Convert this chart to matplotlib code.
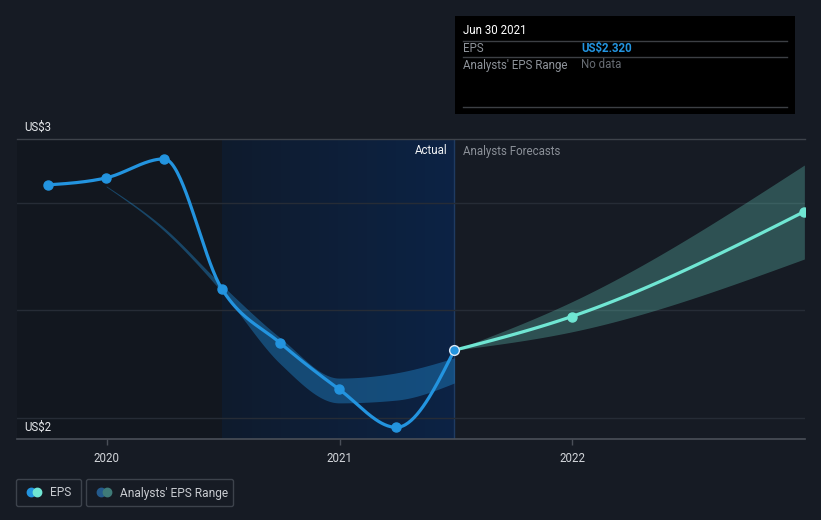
import numpy as np
import pandas as pd
import matplotlib
matplotlib.use("Agg")
import matplotlib.pyplot as plt
from matplotlib.patches import Rectangle, FancyBboxPatch, Circle
from matplotlib.colors import LinearSegmentedColormap

W, H = 821, 520

# reported EPS (US$)
eps_dates = ["2019-09-30", "2019-12-31", "2020-03-31", "2020-06-30",
             "2020-09-30", "2020-12-31", "2021-03-31", "2021-06-30"]
eps_values = [2.860, 2.883, 2.945, 2.520, 2.343, 2.193, 2.068, 2.320]

# analyst forecast EPS with high/low range
fc_dates = ["2021-06-30", "2021-12-31", "2022-12-31"]
fc_values = [2.320, 2.430, 2.773]
fc_high = [2.320, 2.478, 2.925]
fc_low = [2.320, 2.380, 2.618]

# past analyst EPS range
past_dates = ["2019-12-31", "2020-03-31", "2020-06-30", "2020-09-30",
              "2020-12-31", "2021-03-31", "2021-06-30"]
past_high = [2.857, 2.720, 2.533, 2.360, 2.229, 2.246, 2.295]
past_low = [2.854, 2.710, 2.510, 2.275, 2.148, 2.157, 2.213]

year_ticks = [2020, 2021, 2022]

BG = "#161b24"
BLUE = "#2394df"
TEAL = "#70e6d3"
FONT = "Roboto"
FS = 8.3


def to_year(dates):
    d = pd.to_datetime(pd.Series(dates))
    days = np.where(d.dt.is_leap_year, 366, 365)
    return (d.dt.year + (d.dt.dayofyear - 1) / days).to_numpy(float)


def monotone(x, y, n=40):
    """Monotone cubic curve (same idea as d3 curveMonotoneX)."""
    x = np.asarray(x, float)
    y = np.asarray(y, float)
    h = np.diff(x)
    s = np.diff(y) / h
    m = np.zeros_like(y)
    for i in range(1, len(y) - 1):
        p = (s[i - 1] * h[i] + s[i] * h[i - 1]) / (h[i - 1] + h[i])
        m[i] = (np.sign(s[i - 1]) + np.sign(s[i])) * min(abs(s[i - 1]), abs(s[i]), 0.5 * abs(p))
    if len(y) > 2:
        m[0] = (3 * s[0] - m[1]) / 2
        m[-1] = (3 * s[-1] - m[-2]) / 2
    else:
        m[:] = s[0]
    xs, ys = [], []
    t = np.linspace(0, 1, n)
    for i in range(len(h)):
        h00 = 2 * t**3 - 3 * t**2 + 1
        h10 = t**3 - 2 * t**2 + t
        h01 = -2 * t**3 + 3 * t**2
        h11 = t**3 - t**2
        xs.append(x[i] + t * h[i])
        ys.append(h00 * y[i] + h10 * h[i] * m[i] + h01 * y[i + 1] + h11 * h[i] * m[i + 1])
    return np.concatenate(xs), np.concatenate(ys)


x_eps = to_year(eps_dates)
x_fc = to_year(fc_dates)
x_past = to_year(past_dates)

fig = plt.figure(figsize=(W / 100, H / 100), dpi=100)
fig.patch.set_facecolor(BG)

# main plot area: x 17..805 px, y 139..439 px
ax = fig.add_axes([17 / W, (H - 439) / H, 788 / W, 300 / H])
ax.set_facecolor(BG)
xmin, xmax = 2019.614, 2023.0
ymin, ymax = 2.03, 3.01
ax.set_xlim(xmin, xmax)
ax.set_ylim(ymin, ymax)
for sp in ax.spines.values():
    sp.set_visible(False)

# past / actual-period shading
split_start, split_end = x_eps[3], x_eps[-1]
ax.axvspan(xmin, split_start, color="#12171f", zorder=0, lw=0)
grad = np.linspace(0, 1, 256).reshape(1, -1)
cmap = LinearSegmentedColormap.from_list("hl", ["#0f1b2d", "#0c2345"])
ax.imshow(grad, extent=[split_start, split_end, ymin, ymax], aspect="auto",
          cmap=cmap, zorder=0.5, interpolation="bilinear")
ax.axvline(split_end, color="#1f3b62", lw=1, zorder=1)

for g in [2.1, 2.45, 2.8]:
    ax.axhline(g, color="#262c36", lw=1, zorder=1)
ax.axhline(ymax, color="#3e434b", lw=1, zorder=1, clip_on=False)
ax.axhline(ymin, color="#4a4f58", lw=1.2, zorder=1, clip_on=False)

# past analyst range
bx, bh = monotone(x_past, past_high)
_, bl = monotone(x_past, past_low)
ax.fill_between(bx, bl, bh, color=BLUE, alpha=0.38, lw=0, zorder=2)

# forecast range
fx, fh = monotone(x_fc, fc_high)
_, fl = monotone(x_fc, fc_low)
ax.fill_between(fx, fl, fh, color=TEAL, alpha=0.27, lw=0, zorder=2)

# EPS lines
ex, ey = monotone(x_eps, eps_values)
ax.plot(ex, ey, color=BLUE, lw=2.3, zorder=3, solid_capstyle="round")
ax.plot(x_eps[:-1], eps_values[:-1], "o", color=BLUE, ms=6.5, zorder=4)
fx2, fy2 = monotone(x_fc, fc_values)
ax.plot(fx2, fy2, color=TEAL, lw=2.3, zorder=3)
ax.plot(x_fc[1:], fc_values[1:], "o", color=TEAL, ms=6.5, zorder=4)
ax.plot(x_eps[-1], eps_values[-1], "o", color=BLUE, ms=7, mec="#dce8f5", mew=1, zorder=5)

ax.set_yticks([])
ax.set_xticks(year_ticks)
ax.set_xticklabels([str(y) for y in year_ticks])
ax.tick_params(axis="x", colors="#4a4f58", length=4, width=1, pad=5, labelcolor="#d2d5da",
               labelsize=FS)
for lab in ax.get_xticklabels():
    lab.set_fontfamily(FONT)

# overlay in pixel coordinates for labels, tooltip and legend
ov = fig.add_axes([0, 0, 1, 1], zorder=10)
ov.set_xlim(0, W)
ov.set_ylim(H, 0)
ov.axis("off")
ov.patch.set_alpha(0)

ov.text(24, 127, "US$3", color="#e6e8eb", fontsize=FS, family=FONT, va="center")
ov.text(24, 427, "US$2", color="#e6e8eb", fontsize=FS, family=FONT, va="center")
ov.text(447, 151, "Actual", color="#f0f2f4", fontsize=FS, family=FONT, va="center", ha="right")
ov.text(463, 151, "Analysts Forecasts", color="#8b9098", fontsize=FS, family=FONT, va="center")

# tooltip
ov.add_patch(Rectangle((455, 16), 340, 98, facecolor="#000000", edgecolor="none"))
for yy in [40.5, 57.3, 106.5]:
    ov.plot([463, 787], [yy, yy], color="#3c3f44", lw=1)
ov.text(463, 31, "Jun 30 2021", color="#ffffff", fontsize=FS, family=FONT, va="center")
ov.text(463, 48.5, "EPS", color="#8e939a", fontsize=FS, family=FONT, va="center")
ov.text(581, 48.5, "US$%.3f" % eps_values[-1], color=BLUE, fontsize=FS, family=FONT,
        va="center", fontweight="bold")
ov.text(463, 65, "Analysts' EPS Range", color="#8e939a", fontsize=FS, family=FONT, va="center")
ov.text(581, 65, "No data", color="#676c73", fontsize=FS, family=FONT, va="center")

# legend
ov.add_patch(FancyBboxPatch((16.5, 479.5), 65, 27, boxstyle="round,pad=0,rounding_size=2",
                            facecolor="none", edgecolor="#3d434c", lw=1))
ov.add_patch(FancyBboxPatch((86.5, 479.5), 147, 27, boxstyle="round,pad=0,rounding_size=2",
                            facecolor="none", edgecolor="#3d434c", lw=1))
ov.add_patch(Circle((31.5, 492.5), 4.2, color=BLUE))
ov.add_patch(Circle((37.5, 492.5), 4.2, color=TEAL))
ov.add_patch(Circle((101.5, 492.5), 4.2, color="#245a8c"))
ov.add_patch(Circle((107.5, 492.5), 4.2, color="#3f7b78"))
ov.text(50, 493, "EPS", color="#c9ccd1", fontsize=FS + 0.3, family=FONT, va="center")
ov.text(120, 493, "Analysts' EPS Range", color="#c9ccd1", fontsize=FS + 0.3, family=FONT,
        va="center")

fig.savefig("out.png", dpi=100, facecolor=BG)
